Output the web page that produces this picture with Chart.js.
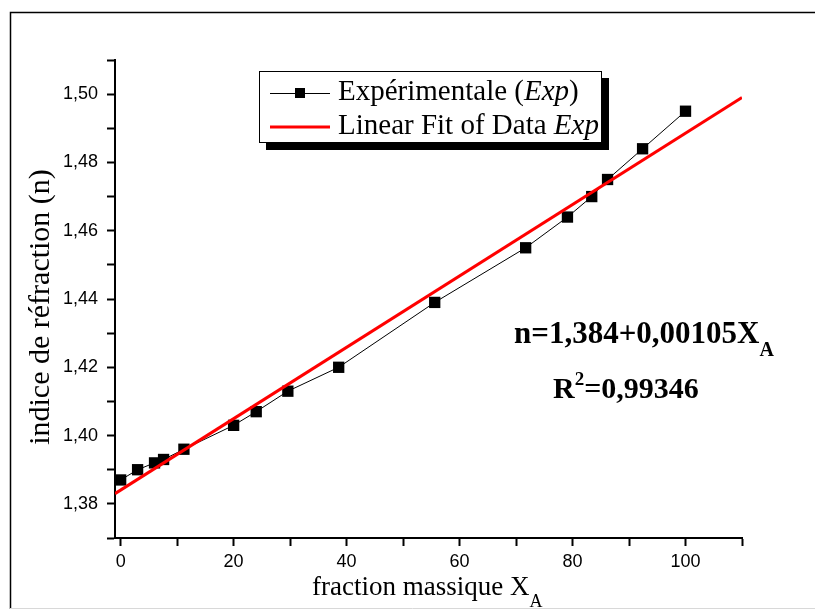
<!DOCTYPE html>
<html>
<head>
<meta charset="utf-8">
<script src="https://cdn.jsdelivr.net/npm/chart.js@4"></script>
<style>
  body { margin: 0; background: #fff; }
  canvas { display: block; }
</style>
</head>
<body>
<canvas id="chart" width="815" height="610"></canvas>
<script>
// values
var fractionX = [0, 3, 6, 7.6, 11.2, 20, 24, 29.6, 38.6, 55.6, 71.7, 79.1, 83.4, 86.2, 92.4, 100];
var indiceN = [1.387, 1.390, 1.392, 1.393, 1.396, 1.403, 1.407, 1.413, 1.420, 1.439, 1.455, 1.464, 1.470, 1.475, 1.484, 1.495];
var fitX = [-1, 110];
var fitN = [1.383, 1.499];

var xTicks = [0, 10, 20, 30, 40, 50, 60, 70, 80, 90, 100, 110];
var xLabels = [0, 20, 40, 60, 80, 100];
var yTicks = [1.37, 1.38, 1.39, 1.40, 1.41, 1.42, 1.43, 1.44, 1.45, 1.46, 1.47, 1.48, 1.49, 1.50, 1.51];
var yLabels = [1.38, 1.40, 1.42, 1.44, 1.46, 1.48, 1.50];

var serif = '"Liberation Serif", "Times New Roman", serif';
var sans = '"Liberation Sans", Arial, sans-serif';

function hasLabel(list, v) {
  return list.some(function (l) { return Math.abs(l - v) < 1e-6; });
}

// frame, titles, legend box and fit equation
var decor = {
  id: 'decor',
  beforeDraw: function (chart) {
    var ctx = chart.ctx;
    ctx.save();
    ctx.fillStyle = '#fff';
    ctx.fillRect(0, 0, chart.width, chart.height);
    ctx.restore();
  },
  afterDraw: function (chart) {
    var ctx = chart.ctx;
    ctx.save();

    // outer frame
    ctx.strokeStyle = '#000';
    ctx.lineWidth = 1.5;
    ctx.beginPath();
    ctx.moveTo(10.5, 609);
    ctx.lineTo(10.5, 12.5);
    ctx.lineTo(815, 12.5);
    ctx.stroke();
    ctx.strokeStyle = '#d8d8d8';
    ctx.lineWidth = 1;
    ctx.beginPath();
    ctx.moveTo(10, 608.5);
    ctx.lineTo(815, 608.5);
    ctx.stroke();

    ctx.fillStyle = '#000';
    ctx.textBaseline = 'alphabetic';

    // y title
    ctx.save();
    ctx.translate(49, 307);
    ctx.rotate(-Math.PI / 2);
    ctx.textAlign = 'center';
    ctx.font = '30px ' + serif;
    ctx.fillText('indice de réfraction (n)', 0, 0);
    ctx.restore();

    // x title with subscript
    ctx.textAlign = 'left';
    ctx.font = '27px ' + serif;
    var t = 'fraction massique X';
    ctx.fillText(t, 312, 595);
    var w = ctx.measureText(t).width;
    ctx.font = '18px ' + serif;
    ctx.fillText('A', 312 + w, 607);

    // legend
    ctx.fillStyle = '#000';
    ctx.fillRect(266, 78, 343, 72);
    ctx.fillStyle = '#fff';
    ctx.fillRect(259, 71, 343, 72);
    ctx.strokeStyle = '#000';
    ctx.lineWidth = 1;
    ctx.strokeRect(259.5, 71.5, 342, 71);

    ctx.beginPath();
    ctx.moveTo(270, 93.5);
    ctx.lineTo(330, 93.5);
    ctx.stroke();
    ctx.fillStyle = '#000';
    ctx.fillRect(295, 88, 10, 10);

    ctx.strokeStyle = '#ff0000';
    ctx.lineWidth = 3;
    ctx.beginPath();
    ctx.moveTo(270, 127);
    ctx.lineTo(330, 127);
    ctx.stroke();

    var x = 338;
    ctx.font = '29px ' + serif;
    ctx.fillText('Expérimentale (', x, 100);
    x += ctx.measureText('Expérimentale (').width;
    ctx.font = 'italic 29px ' + serif;
    ctx.fillText('Exp', x, 100);
    x += ctx.measureText('Exp').width;
    ctx.font = '29px ' + serif;
    ctx.fillText(')', x, 100);

    x = 338;
    ctx.fillText('Linear Fit of Data ', x, 134);
    x += ctx.measureText('Linear Fit of Data ').width;
    ctx.font = 'italic 29px ' + serif;
    ctx.fillText('Exp', x, 134);

    // equation
    ctx.font = 'bold 31px ' + serif;
    t = 'n=1,384+0,00105X';
    ctx.fillText(t, 514, 343);
    w = ctx.measureText(t).width;
    ctx.font = 'bold 20px ' + serif;
    ctx.fillText('A', 514 + w, 356);

    ctx.font = 'bold 30px ' + serif;
    ctx.fillText('R', 553, 398);
    w = ctx.measureText('R').width;
    ctx.font = 'bold 19px ' + serif;
    ctx.fillText('2', 553 + w, 385);
    var w2 = ctx.measureText('2').width;
    ctx.font = 'bold 30px ' + serif;
    ctx.fillText('=0,99346', 553 + w + w2, 398);

    ctx.restore();
  }
};

var data = {
  datasets: [{
    label: 'Expérimentale (Exp)',
    data: fractionX.map(function (v, i) { return { x: v, y: indiceN[i] }; }),
    showLine: true,
    borderColor: '#000',
    borderWidth: 1,
    backgroundColor: '#000',
    pointStyle: 'rect',
    pointRadius: 8,
    pointBorderWidth: 0,
    order: 1
  }, {
    label: 'Linear Fit of Data Exp',
    data: fitX.map(function (v, i) { return { x: v, y: fitN[i] }; }),
    showLine: true,
    borderColor: '#ff0000',
    borderWidth: 3,
    pointRadius: 0,
    order: 0
  }]
};

var config = {
  type: 'scatter',
  data: data,
  options: {
    responsive: false,
    animation: false,
    layout: { padding: { top: 60, right: 73, left: 0, bottom: 0 } },
    plugins: {
      legend: { display: false },
      tooltip: { enabled: false }
    },
    scales: {
      x: {
        type: 'linear',
        min: -1,
        max: 110,
        afterBuildTicks: function (scale) {
          scale.ticks = xTicks.map(function (v) { return { value: v }; });
        },
        afterFit: function (scale) { scale.height = 72; },
        border: { display: true, color: '#000', width: 2 },
        grid: { drawOnChartArea: false, tickLength: 8, tickColor: '#000', tickWidth: 2 },
        ticks: {
          color: '#000',
          padding: 5,
          maxRotation: 0,
          autoSkip: false,
          font: { family: sans, size: 18 },
          callback: function (v) { return hasLabel(xLabels, v) ? String(v) : ''; }
        }
      },
      y: {
        type: 'linear',
        min: 1.37,
        max: 1.51,
        afterBuildTicks: function (scale) {
          scale.ticks = yTicks.map(function (v) { return { value: v }; });
        },
        afterFit: function (scale) { scale.width = 115; },
        border: { display: true, color: '#000', width: 2 },
        grid: { drawOnChartArea: false, tickLength: 8, tickColor: '#000', tickWidth: 2 },
        ticks: {
          color: '#000',
          padding: 9,
          autoSkip: false,
          font: { family: sans, size: 18 },
          callback: function (v) { return hasLabel(yLabels, v) ? v.toFixed(2).replace('.', ',') : ''; }
        }
      }
    }
  },
  plugins: [decor]
};

var myChart = new Chart(document.getElementById('chart').getContext('2d'), config);
</script>
</body>
</html>
